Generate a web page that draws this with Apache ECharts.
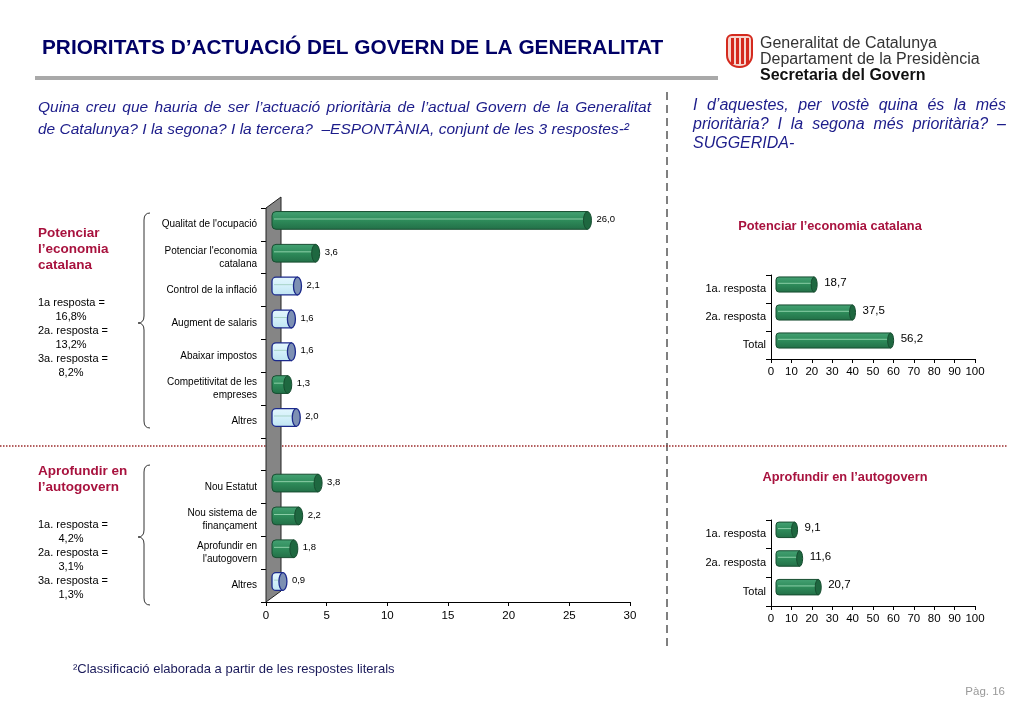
<!DOCTYPE html>
<html><head><meta charset="utf-8">
<script src="https://cdn.jsdelivr.net/npm/echarts@6/dist/echarts.min.js"></script>
<style>html,body{margin:0;padding:0;background:#fff}#c{width:1023px;height:708px}</style>
</head><body><div id="c"></div>
<script>
// ---------------- DATA ----------------
const mainCategories = [
  "Qualitat de l'ocupació",
  "Potenciar l'economia\ncatalana",
  "Control de la inflació",
  "Augment de salaris",
  "Abaixar impostos",
  "Competitivitat de les\nempreses",
  "Altres",
  "",
  "Nou Estatut",
  "Nou sistema de\nfinançament",
  "Aprofundir en\nl'autogovern",
  "Altres"
];
const mainValues = [26.0, 3.6, 2.1, 1.6, 1.6, 1.3, 2.0, null, 3.8, 2.2, 1.8, 0.9];
const mainHighlighted = [
  "Qualitat de l'ocupació",
  "Potenciar l'economia\ncatalana",
  "Competitivitat de les\nempreses",
  "Nou Estatut",
  "Nou sistema de\nfinançament",
  "Aprofundir en\nl'autogovern"
];
const mainAxisTicks = { min: 0, max: 30, interval: 5 };

const subCategories = ['1a. resposta', '2a. resposta', 'Total'];
const economiaValues = [18.7, 37.5, 56.2];
const autogovernValues = [9.1, 11.6, 20.7];
const subAxisTicks = { min: 0, max: 100, interval: 10 };

const economiaShareLines = ['1a resposta =', '16,8%', '2a. resposta =', '13,2%', '3a. resposta =', '8,2%'];
const autogovernShareLines = ['1a. resposta =', '4,2%', '2a. resposta =', '3,1%', '3a. resposta =', '1,3%'];

// ---------------- STYLE ----------------
const FF = '"Liberation Sans", Arial, Helvetica, sans-serif';
const NAVY = '#000066';
const QNAVY = '#1c1c8a';
const RED = '#a8123e';
const GREEN = { top: '#45a274', mid: '#2e8b5a', bot: '#226f47', hl: '#8ccfa8', cap: '#1e6840', edge: '#174d30', lw: 1 };
const BLUE = { top: '#e4f7fd', mid: '#d3f0fa', bot: '#bfe4f2', hl: '#a9d3c8', cap: '#7d90b3', edge: '#1c2a8c', lw: 1.3 };

const fmt = v => v.toFixed(1).replace('.', ',');

function barItem(cfg) {
  return function (params, api) {
    const v = api.value(0), c = api.value(1), g = api.value(2);
    const p0 = api.coord([0, c]), p1 = api.coord([v, c]);
    const band = api.size([0, 1])[1];
    const h = band * cfg.ratio;
    const yc = p0[1] + cfg.dy;
    const x0 = p0[0] + cfg.dx, x1 = p1[0] + cfg.dx;
    const y0 = yc - h / 2;
    const rx = cfg.capRx, ry = h / 2;
    const pal = g ? GREEN : BLUE;
    const capPath = `M${x1},${yc - ry} A${rx},${ry} 0 1 1 ${x1},${yc + ry} A${rx},${ry} 0 1 1 ${x1},${yc - ry} Z`;
    return {
      type: 'group',
      children: [
        { type: 'rect', shape: { x: x0, y: y0, width: Math.max(x1 - x0, 1), height: h, r: [rx, 0, 0, rx] },
          style: { fill: new echarts.graphic.LinearGradient(0, 0, 0, 1, [
            { offset: 0, color: pal.top }, { offset: 0.5, color: pal.mid }, { offset: 1, color: pal.bot }]),
            stroke: pal.edge, lineWidth: pal.lw } },
        { type: 'line', shape: { x1: x0 + 2, y1: y0 + h * 0.42, x2: x1 - 1, y2: y0 + h * 0.42 },
          style: { stroke: pal.hl, lineWidth: 1 } },
        { type: 'path', shape: { pathData: capPath },
          style: { fill: pal.cap, stroke: pal.edge, lineWidth: pal.lw } },
        { type: 'text', x: x1 + rx + cfg.labelGap, y: yc + cfg.labelDy,
          style: { text: fmt(v), fontSize: cfg.labelSize, fontFamily: FF, fill: '#000', verticalAlign: 'middle', align: 'left' } }
      ]
    };
  };
}

const mainData = [];
mainValues.forEach((v, i) => {
  if (v == null) return;
  mainData.push([v, i, mainHighlighted.includes(mainCategories[i]) ? 1 : 0]);
});
const economiaData = economiaValues.map((v, i) => [v, i, 1]);
const autogovernData = autogovernValues.map((v, i) => [v, i, 1]);

// ---------------- TEXT / DECORATION ----------------
const mctx = document.createElement('canvas').getContext('2d');
function txt(text, x, y, o) {
  o = o || {};
  return { type: 'text', x, y, silent: true, style: Object.assign({
    text, fontFamily: FF, fontSize: 12, fill: '#000', align: 'left', verticalAlign: 'middle'
  }, o) };
}
function justified(text, x, y, width, o) {
  const size = o.fontSize, style = o.fontStyle || 'normal', weight = o.fontWeight || 'normal';
  mctx.font = `${style} ${weight} ${size}px "Liberation Sans"`;
  const words = text.split(' ');
  const ws = words.map(w => mctx.measureText(w).width);
  const total = ws.reduce((a, b) => a + b, 0);
  const gap = (width - total) / (words.length - 1);
  const out = [];
  let cx = x;
  words.forEach((w, i) => { out.push(txt(w, cx, y, o)); cx += ws[i] + gap; });
  return out;
}
function brace(xTip, xLine, xEnd, yTop, yMid, yBot) {
  const st = { stroke: '#333', lineWidth: 1, fill: 'none' };
  const r = 7;
  return [
    { type: 'bezierCurve', silent: true, shape: { x1: xEnd, y1: yTop, x2: xLine, y2: yTop + r, cpx1: xLine, cpy1: yTop }, style: st },
    { type: 'line', silent: true, shape: { x1: xLine, y1: yTop + r, x2: xLine, y2: yMid - r }, style: st },
    { type: 'bezierCurve', silent: true, shape: { x1: xLine, y1: yMid - r, x2: xTip, y2: yMid, cpx1: xLine, cpy1: yMid }, style: st },
    { type: 'bezierCurve', silent: true, shape: { x1: xTip, y1: yMid, x2: xLine, y2: yMid + r, cpx1: xLine, cpy1: yMid }, style: st },
    { type: 'line', silent: true, shape: { x1: xLine, y1: yMid + r, x2: xLine, y2: yBot - r }, style: st },
    { type: 'bezierCurve', silent: true, shape: { x1: xLine, y1: yBot - r, x2: xEnd, y2: yBot, cpx1: xLine, cpy1: yBot }, style: st }
  ];
}

const qStyle = { fontSize: 15.5, fontStyle: 'italic', fill: QNAVY };
const qStyleR = { fontSize: 16, fontStyle: 'italic', fill: QNAVY };
const elements = [];
// title
elements.push(txt('PRIORITATS D’ACTUACIÓ DEL GOVERN DE LA GENERALITAT', 42, 48, { fontSize: 20.8, fontWeight: 'bold', fill: NAVY }));
elements.push({ type: 'rect', silent: true, shape: { x: 35, y: 76, width: 683, height: 4 }, style: { fill: '#a9a9a9' } });
// logo
elements.push({ type: 'rect', silent: true, shape: { x: 727, y: 35, width: 25, height: 32, r: [5, 5, 12, 12] }, style: { fill: '#f6d6cf', stroke: '#d42a1e', lineWidth: 2 } });
[731, 736, 741, 746].forEach(x => elements.push({ type: 'rect', silent: true, shape: { x, y: 38, width: 3, height: 26 }, style: { fill: '#d42a1e' } }));
elements.push(txt('Generalitat de Catalunya', 760, 44, { fontSize: 16, fill: '#333' }));
elements.push(txt('Departament de la Presidència', 760, 60, { fontSize: 16, fill: '#333' }));
elements.push(txt('Secretaria del Govern', 760, 76, { fontSize: 16, fontWeight: 'bold', fill: '#111' }));
// questions
justified('Quina creu que hauria de ser l’actuació prioritària de l’actual Govern de la Generalitat', 38, 108, 613, qStyle).forEach(e => elements.push(e));
elements.push(txt('de Catalunya? I la segona? I la tercera?  –ESPONTÀNIA, conjunt de les 3 respostes-²', 38, 130, qStyle));
justified('I d’aquestes, per vostè quina és la més', 693, 106, 313, qStyleR).forEach(e => elements.push(e));
justified('prioritària? I la segona més prioritària? –', 693, 125, 313, qStyleR).forEach(e => elements.push(e));
elements.push(txt('SUGGERIDA-', 693, 144, qStyleR));
// separators
elements.push({ type: 'line', silent: true, shape: { x1: 667, y1: 92, x2: 667, y2: 648 }, style: { stroke: '#000', lineWidth: 1, lineDash: [8, 5] } });
elements.push({ type: 'line', silent: true, shape: { x1: 0, y1: 446, x2: 1008, y2: 446 }, style: { stroke: '#9b2b2b', lineWidth: 1.5, lineDash: [1.5, 1.5] } });
// braces
brace(138, 144, 150, 213, 323, 428).forEach(e => elements.push(e));
brace(138, 144, 150, 465, 537, 605).forEach(e => elements.push(e));
// left group notes
const redBold = { fontSize: 13.5, fontWeight: 'bold', fill: RED };
elements.push(txt('Potenciar', 38, 233, redBold));
elements.push(txt('l’economia', 38, 249, redBold));
elements.push(txt('catalana', 38, 265, redBold));
economiaShareLines.forEach((t, i) => elements.push(i % 2 === 0
  ? txt(t, 38, 303 + i * 14, { fontSize: 11 })
  : txt(t, 71, 303 + i * 14, { fontSize: 11, align: 'center' })));
elements.push(txt('Aprofundir en', 38, 471, redBold));
elements.push(txt('l’autogovern', 38, 487, redBold));
autogovernShareLines.forEach((t, i) => elements.push(i % 2 === 0
  ? txt(t, 38, 525 + i * 14, { fontSize: 11 })
  : txt(t, 71, 525 + i * 14, { fontSize: 11, align: 'center' })));
// right chart titles
elements.push(txt('Potenciar l’economia catalana', 830, 226, { fontSize: 12.8, fontWeight: 'bold', fill: RED, align: 'center' }));
elements.push(txt('Aprofundir en l’autogovern', 845, 477, { fontSize: 12.8, fontWeight: 'bold', fill: RED, align: 'center' }));
// footnote & page
elements.push(txt('²Classificació elaborada a partir de les respostes literals', 73, 669, { fontSize: 13, fill: '#1a1a5a' }));
elements.push(txt('Pàg. 16', 1005, 692, { fontSize: 11.5, fill: '#999', align: 'right' }));

// ---------------- CHART ----------------
const axisLbl = (size, margin) => ({ fontSize: size, color: '#000', fontFamily: FF, margin });
function valueAxis(grid, t, lblSize, margin) {
  return { type: 'value', gridIndex: grid, min: t.min, max: t.max, interval: t.interval,
    axisLine: { show: true, lineStyle: { color: '#000', width: 1 } },
    axisTick: { show: true, length: 4, lineStyle: { color: '#000' } },
    splitLine: { show: false }, axisLabel: axisLbl(lblSize, margin) };
}
function catAxis(grid, data, lblSize, margin, lh) {
  return { type: 'category', gridIndex: grid, data, inverse: true,
    axisLine: { show: true, lineStyle: { color: '#000', width: 1 } },
    axisTick: { show: true, length: 5, lineStyle: { color: '#000' } },
    axisLabel: Object.assign(axisLbl(lblSize, margin), { lineHeight: lh, interval: 0 }) };
}

const chart = echarts.init(document.getElementById('c'));
chart.setOption({
  backgroundColor: '#fff',
  animation: false,
  grid: [
    { left: 266, right: 393, top: 208, bottom: 106 },
    { left: 771, right: 48, top: 275, bottom: 349 },
    { left: 771, right: 48, top: 520, bottom: 102 }
  ],
  xAxis: [
    valueAxis(0, mainAxisTicks, 11.5, 8),
    valueAxis(1, subAxisTicks, 11.5, 7),
    valueAxis(2, subAxisTicks, 11.5, 7)
  ],
  yAxis: [
    catAxis(0, mainCategories, 10, 9, 13),
    catAxis(1, subCategories, 11, 5, 13),
    catAxis(2, subCategories, 11, 5, 13)
  ],
  series: [
    { type: 'custom', xAxisIndex: 0, yAxisIndex: 0, data: [[0, 0]], z: 1, silent: true,
      renderItem: (params, api) => {
        const cs = params.coordSys;
        const x = cs.x, yT = cs.y, yB = cs.y + cs.height;
        return { type: 'polygon', shape: { points: [[x, yT], [x + 15, yT - 11], [x + 15, yB - 11], [x, yB]] },
          style: { fill: '#858585', stroke: '#222', lineWidth: 1 } };
      } },
    { type: 'custom', xAxisIndex: 0, yAxisIndex: 0, data: mainData, z: 3, encode: { x: 0, y: 1 },
      renderItem: barItem({ ratio: 0.54, dx: 6, dy: -4, capRx: 4, labelGap: 5, labelDy: -1, labelSize: 9.5 }) },
    { type: 'custom', xAxisIndex: 1, yAxisIndex: 1, data: economiaData, z: 3, encode: { x: 0, y: 1 },
      renderItem: barItem({ ratio: 0.54, dx: 5, dy: -4.5, capRx: 3, labelGap: 7, labelDy: -2, labelSize: 11.5 }) },
    { type: 'custom', xAxisIndex: 2, yAxisIndex: 2, data: autogovernData, z: 3, encode: { x: 0, y: 1 },
      renderItem: barItem({ ratio: 0.54, dx: 5, dy: -4.5, capRx: 3, labelGap: 7, labelDy: -2, labelSize: 11.5 }) }
  ],
  graphic: { elements }
});
</script>
</body></html>
